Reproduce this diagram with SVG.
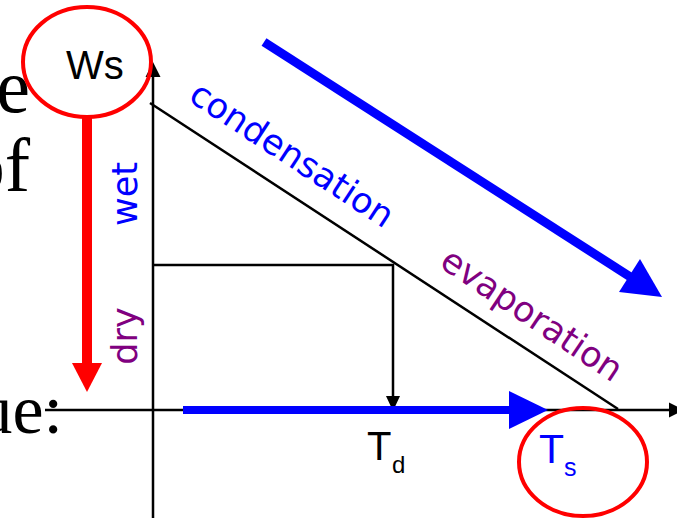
<svg xmlns="http://www.w3.org/2000/svg" width="677" height="523" viewBox="0 0 677 523">
  <style>
    .serif { font-family: "Liberation Serif", "Times New Roman", serif; fill: #000; }
    .lbl { font-family: "Liberation Sans", Arial, sans-serif; }
    .rot { font-family: "DejaVu Sans", "Noto Sans", sans-serif; font-size: 35px; }
    .axis { stroke: #000; stroke-width: 2.5; fill: none; }
    .ring { stroke: #ff0000; stroke-width: 4; fill: none; }
  </style>
  <rect width="677" height="523" fill="#ffffff"/>

  <g id="background-text">
    <text class="serif" x="30" y="112" font-size="76" text-anchor="end">e</text>
    <text class="serif" x="30" y="191" font-size="76" text-anchor="end">of</text>
    <text class="serif" x="63" y="433" font-size="70" text-anchor="end">ue:</text>
  </g>

  <g id="connectors">
    <line class="axis" x1="153" y1="518" x2="153" y2="75"/>
    <polygon points="153,62 145.5,77 160.5,77" fill="#000"/>
    <line class="axis" x1="45" y1="410" x2="672" y2="410"/>
    <polygon points="684,410 669,402.5 669,417.5" fill="#000"/>
    <line class="axis" x1="150" y1="103" x2="618" y2="409"/>
    <polyline class="axis" points="153,265 393,265 393,398"/>
    <polygon points="393,411 386,396 400,396" fill="#000"/>
    <line x1="87" y1="118" x2="87" y2="364" stroke="#ff0000" stroke-width="10"/>
    <polygon points="72,363 102,363 87,392" fill="#ff0000"/>
    <line x1="183" y1="410" x2="512" y2="410" stroke="#0000ff" stroke-width="8"/>
    <polygon points="509,391 548,410 509,429" fill="#0000ff"/>
    <line x1="264" y1="42" x2="632" y2="278" stroke="#0000ff" stroke-width="9"/>
    <polygon points="662,297 619,292 640,259" fill="#0000ff"/>
  </g>

  <g id="node-ws">
    <ellipse class="ring" cx="87" cy="62" rx="64" ry="55"/>
    <text class="lbl" x="66" y="79" font-size="40" fill="#000">Ws</text>
  </g>

  <g id="node-ts">
    <ellipse class="ring" cx="583" cy="462" rx="64" ry="54"/>
    <text class="lbl" x="539" y="463" font-size="41" fill="#0000ff">T<tspan x="564" y="476" font-size="25">s</tspan></text>
  </g>

  <g id="node-td">
    <text class="lbl" x="367" y="460" font-size="40" fill="#000">T<tspan x="392" y="473" font-size="24">d</tspan></text>
  </g>

  <g id="labels">
    <text class="rot" fill="#0000ff" transform="translate(187,100) rotate(33.2)">condensation</text>
    <text class="rot" fill="#800080" transform="translate(438,266) rotate(33.8)">evaporation</text>
    <text class="rot" fill="#0000ff" text-anchor="middle" transform="translate(137,194) rotate(-90)">wet</text>
    <text class="rot" fill="#800080" text-anchor="middle" transform="translate(137,336) rotate(-90)">dry</text>
  </g>
</svg>
